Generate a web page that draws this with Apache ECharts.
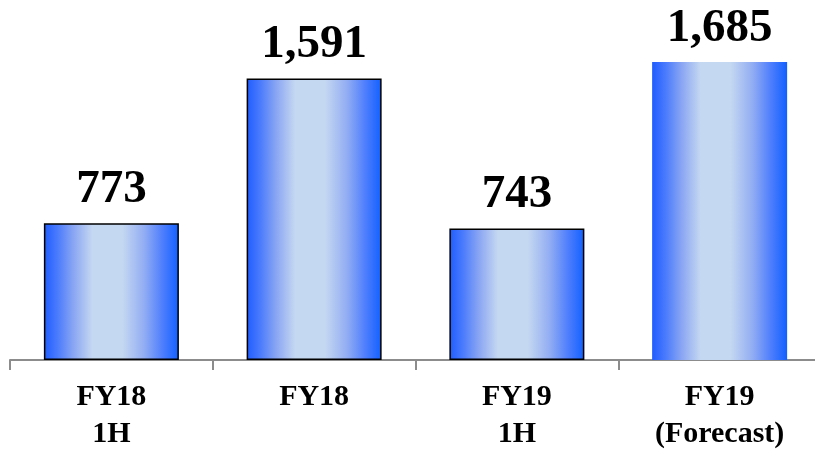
<!DOCTYPE html>
<html>
<head>
<meta charset="utf-8">
<script src="https://cdn.jsdelivr.net/npm/echarts@6/dist/echarts.min.js"></script>
<style>
  html, body { margin: 0; padding: 0; background: #fff; overflow: hidden; }
  /* the plot runs past the right edge of the window; the last slot is cut off */
  #chart { width: 821px; height: 453px; }
</style>
</head>
<body>
<div id="chart"></div>
<script>
// Period labels along the x axis
const categories = ['FY18\n1H', 'FY18', 'FY19\n1H', 'FY19\n(Forecast)'];
// Reported values per period
const values = [773, 1591, 743, 1685];
// Whether each bar gets an outline (forecast bar has none)
const outlined = [true, true, true, false];

const barGradient = {
  type: 'linear', x: 0, y: 0, x2: 1, y2: 0,
  colorStops: [
    { offset: 0, color: '#1f5cff' },
    { offset: 0.1, color: '#4a7bfd' },
    { offset: 0.22, color: '#8aa6f3' },
    { offset: 0.36, color: '#c5d8f1' },
    { offset: 0.58, color: '#c5d8f1' },
    { offset: 0.74, color: '#93aef3' },
    { offset: 0.88, color: '#4e7efd' },
    { offset: 1, color: '#1160ff' }
  ]
};

const chart = echarts.init(document.getElementById('chart'), null, { renderer: 'canvas' });

chart.setOption({
  animation: false,
  grid: { left: 10, top: 0, right: 0, bottom: 93, containLabel: false },
  xAxis: {
    type: 'category',
    data: categories,
    axisLine: { show: true, lineStyle: { color: '#8c8c8c', width: 2 } },
    axisTick: { show: true, length: 10, lineStyle: { color: '#8c8c8c', width: 2 } },
    axisLabel: {
      margin: 19,
      fontFamily: '"Liberation Serif", "Times New Roman", serif',
      fontWeight: 'bold',
      fontSize: 30,
      lineHeight: 37,
      color: '#000'
    }
  },
  yAxis: {
    type: 'value',
    min: 0,
    max: 2035,
    show: false,
    splitLine: { show: false }
  },
  series: [{
    type: 'bar',
    barWidth: 135,
    data: values.map((v, i) => ({
      value: v,
      itemStyle: {
        color: barGradient,
        borderColor: '#000',
        borderWidth: outlined[i] ? 1.5 : 0
      }
    })),
    label: {
      show: true,
      position: 'top',
      distance: 10,
      formatter: p => p.value.toLocaleString('en-US'),
      fontFamily: '"Liberation Serif", "Times New Roman", serif',
      fontWeight: 'bold',
      fontSize: 47,
      color: '#000'
    }
  }]
});
</script>
</body>
</html>
